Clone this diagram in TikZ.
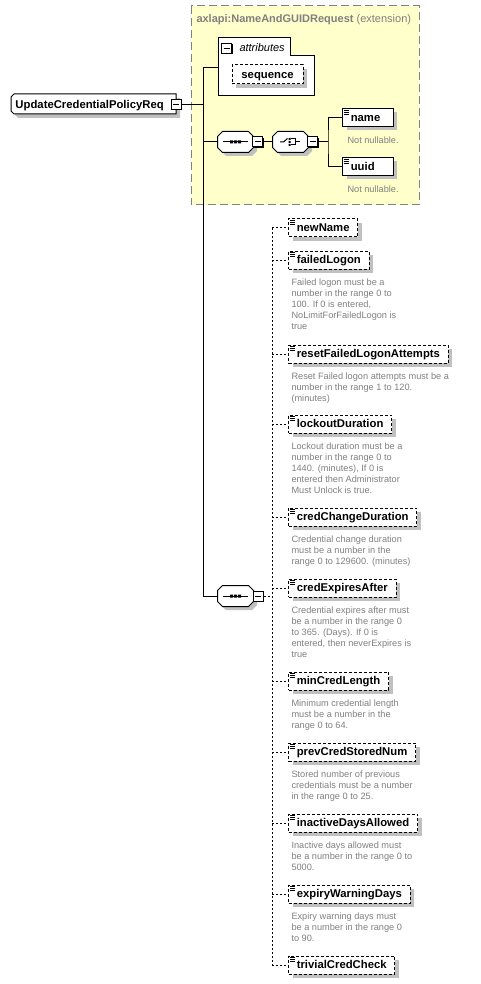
\documentclass[tikz,border=0pt]{standalone}
\usepackage{fontspec}
\setmainfont{Liberation Sans}
\usetikzlibrary{shadows}
\definecolor{extyellow}{HTML}{FFFFCC}
\definecolor{shadegrey}{HTML}{C0C0C0}
\definecolor{notegrey}{HTML}{808080}
\tikzset{
  boxshadow/.style={drop shadow={shadow xshift=4pt,shadow yshift=-4pt,fill=shadegrey,opacity=1}},
  elem/.style={draw,fill=white,anchor=west,inner xsep=8.3pt,inner ysep=0pt,
    minimum height=18pt,text height=9.5pt,text depth=2pt,
    font=\fontsize{11.3}{13}\selectfont\bfseries,boxshadow,
    path picture={\draw[solid,line width=0.8pt]
      ([shift={(1.5pt,-1.5pt)}]path picture bounding box.north west) -- ++(5,0)
      ++(-5,2) -- ++(5,0) ++(-5,2) -- ++(5,0);}},
  optelem/.style={elem,dash pattern=on 3pt off 2pt},
  descr/.style={anchor=north west,inner sep=0pt,align=left,text=notegrey,
    font=\fontsize{9.2}{11}\selectfont},
  minus/.style={draw,fill=white,minimum size=10pt,inner sep=0pt,
    drop shadow={shadow xshift=1pt,shadow yshift=-1pt,fill=black,opacity=1},
    path picture={\draw ([xshift=2pt]path picture bounding box.west)
      -- ([xshift=-2pt]path picture bounding box.east);}},
  comp/.style={minimum width=35pt,minimum height=20pt,inner sep=0pt},
  octo/.style={draw,fill=white,
    drop shadow={shadow xshift=3.5pt,shadow yshift=-3.5pt,fill=shadegrey,opacity=1},
    insert path={([xshift=5pt]#1.north west) -- ([xshift=-5pt]#1.north east)
      -- ([yshift=-5pt]#1.north east) -- ([yshift=5pt]#1.south east)
      -- ([xshift=-5pt]#1.south east) -- ([xshift=5pt]#1.south west)
      -- ([yshift=5pt]#1.south west) -- ([yshift=-5pt]#1.north west) -- cycle}},
  seqshape/.style={octo=#1,path picture={
    \draw ([xshift=-12.5pt]#1.center) -- ([xshift=12.5pt]#1.center);
    \fill[black] ([shift={(-5.5pt,1.5pt)}]#1.center) rectangle ++(3,3)
      ([shift={(-1.5pt,1.5pt)}]#1.center) rectangle ++(3,3)
      ([shift={(2.5pt,1.5pt)}]#1.center) rectangle ++(3,3);}},
  choiceshape/.style={octo=#1,path picture={
    \draw ([xshift=-10.5pt]#1.center) -- ([xshift=-7pt]#1.center) -- ([shift={(-3pt,3.5pt)}]#1.center);
    \fill[black] ([shift={(-2pt,4pt)}]#1.center) rectangle ++(2,2)
      ([shift={(-2pt,1pt)}]#1.center) rectangle ++(2,2)
      ([shift={(-2pt,-2pt)}]#1.center) rectangle ++(2,2);
    \draw ([shift={(0.5pt,3pt)}]#1.center) -- ([shift={(5pt,3pt)}]#1.center)
      -- ([shift={(5pt,-3pt)}]#1.center) -- ([shift={(0.5pt,-3pt)}]#1.center)
      ([xshift=5pt]#1.center) -- ([xshift=9.5pt]#1.center);}},
  link/.style={dash pattern=on 2pt off 2pt}
}
\begin{document}
\begin{tikzpicture}[x=1pt,y=-1pt,line width=1pt]
\useasboundingbox (0,0) rectangle (480,984);
% extension base
\draw[fill=extyellow,draw=notegrey,dash pattern=on 8pt off 4pt] (191,6) rectangle (419,205);
\node[anchor=base west,inner sep=0pt,text=notegrey,font=\fontsize{11}{13}\selectfont] (exttitle) at (196,22.5) {\textbf{axlapi:NameAndGUIDRequest} (extension)};
\draw[fill=white] (218,38) -- (290,38) -- (290,56) -- (314,56) -- (314,96) -- (218,96) -- cycle;
\coordinate (attrin) at (218,68);
\node[minus] (attrm) at (226.5,48.5) {};
\node[anchor=base west,inner sep=0pt,font=\fontsize{11}{13}\selectfont\itshape] (attrlabel) at (239,51.5) {attributes};
\node[draw,fill=white,dash pattern=on 3pt off 2pt,minimum width=71pt,minimum height=19pt,inner sep=0pt,
  text height=9.5pt,text depth=2pt,font=\fontsize{11.3}{13}\selectfont\bfseries,boxshadow] (seqattr) at (267.5,74.5) {sequence};
% root
\draw[fill=white,boxshadow] (14,94) -- (176,94) -- (176,114) -- (14,114) -- (11,111) -- (11,97) -- cycle;
\node[anchor=base west,inner sep=0pt,font=\fontsize{11.3}{13}\selectfont\bfseries] (root) at (15,108.5) {UpdateCredentialPolicyReq};
\node[minus] (rootm) at (176,104.5) {};
\coordinate (trunk) at (203,68);
\draw (rootm.east) -- (rootm.east -| trunk);
\draw (trunk) -- (attrin);
\node[comp] (seqA) at (235.5,142) {};
\draw[seqshape=seqA];
\node[minus] (seqAm) at (257.5,142) {};
\node[comp] (choice) at (290.5,142) {};
\draw[choiceshape=choice];
\node[minus] (choicem) at (312.5,142) {};
\node[elem,text width=34pt,align=left] (name) at (342,117.5) {name};
\node[elem,text width=34pt,align=left] (uuid) at (342,166.5) {uuid};
\node[descr] (name-d) at (347,136) {Not nullable.};
\node[descr] (uuid-d) at (347,185) {Not nullable.};
\coordinate (fork) at (328,142);
\draw (trunk |- seqA.west) -- (seqA.west);
\draw (seqAm.east) -- (choice.west);
\draw (choicem.east) -- (fork);
\draw (name.west) -| (fork) |- (uuid.west);
% own sequence
\node[comp] (seqB) at (235.5,596) {};
\draw[seqshape=seqB];
\node[minus] (seqBm) at (258,596) {};
\draw (trunk) |- (seqB.west);
\coordinate (rail) at (272,596);
\draw[link] (seqBm.east) -- (rail);
\node[optelem] (newName) at (288,228) {newName};
\node[optelem] (failedLogon) at (288,260) {failedLogon};
\node[descr] (failedLogon-d) at (291,278.5) {Failed logon must be a\\number in the range 0 to\\100. If 0 is entered,\\NoLimitForFailedLogon is\\true};
\node[optelem] (resetFailedLogonAttempts) at (288,354) {resetFailedLogonAttempts};
\node[descr] (resetFailedLogonAttempts-d) at (291,372.5) {Reset Failed logon attempts must be a\\number in the range 1 to 120.\\(minutes)};
\node[optelem] (lockoutDuration) at (288,424) {lockoutDuration};
\node[descr] (lockoutDuration-d) at (291,442.5) {Lockout duration must be a\\number in the range 0 to\\1440. (minutes), If 0 is\\entered then Administrator\\Must Unlock is true.};
\node[optelem] (credChangeDuration) at (288,517) {credChangeDuration};
\node[descr] (credChangeDuration-d) at (291,535.5) {Credential change duration\\must be a number in the\\range 0 to 129600. (minutes)};
\node[optelem] (credExpiresAfter) at (288,588) {credExpiresAfter};
\node[descr] (credExpiresAfter-d) at (291,606.5) {Credential expires after must\\be a number in the range 0\\to 365. (Days). If 0 is\\entered, then neverExpires is\\true};
\node[optelem] (minCredLength) at (288,681) {minCredLength};
\node[descr] (minCredLength-d) at (291,699.5) {Minimum credential length\\must be a number in the\\range 0 to 64.};
\node[optelem] (prevCredStoredNum) at (288,752) {prevCredStoredNum};
\node[descr] (prevCredStoredNum-d) at (291,770.5) {Stored number of previous\\credentials must be a number\\in the range 0 to 25.};
\node[optelem] (inactiveDaysAllowed) at (288,823) {inactiveDaysAllowed};
\node[descr] (inactiveDaysAllowed-d) at (291,841.5) {Inactive days allowed must\\be a number in the range 0 to\\5000.};
\node[optelem] (expiryWarningDays) at (288,894) {expiryWarningDays};
\node[descr] (expiryWarningDays-d) at (291,912.5) {Expiry warning days must\\be a number in the range 0\\to 90.};
\node[optelem] (trivialCredCheck) at (288,965) {trivialCredCheck};
% child links
\draw[link] (rail |- newName.west) -- (rail |- trivialCredCheck.west);
\draw[link] (rail |- newName.west) -- (newName.west);
\draw[link] (rail |- failedLogon.west) -- (failedLogon.west);
\draw[link] (rail |- resetFailedLogonAttempts.west) -- (resetFailedLogonAttempts.west);
\draw[link] (rail |- lockoutDuration.west) -- (lockoutDuration.west);
\draw[link] (rail |- credChangeDuration.west) -- (credChangeDuration.west);
\draw[link] (rail |- credExpiresAfter.west) -- (credExpiresAfter.west);
\draw[link] (rail |- minCredLength.west) -- (minCredLength.west);
\draw[link] (rail |- prevCredStoredNum.west) -- (prevCredStoredNum.west);
\draw[link] (rail |- inactiveDaysAllowed.west) -- (inactiveDaysAllowed.west);
\draw[link] (rail |- expiryWarningDays.west) -- (expiryWarningDays.west);
\draw[link] (rail |- trivialCredCheck.west) -- (trivialCredCheck.west);
\end{tikzpicture}
\end{document}
